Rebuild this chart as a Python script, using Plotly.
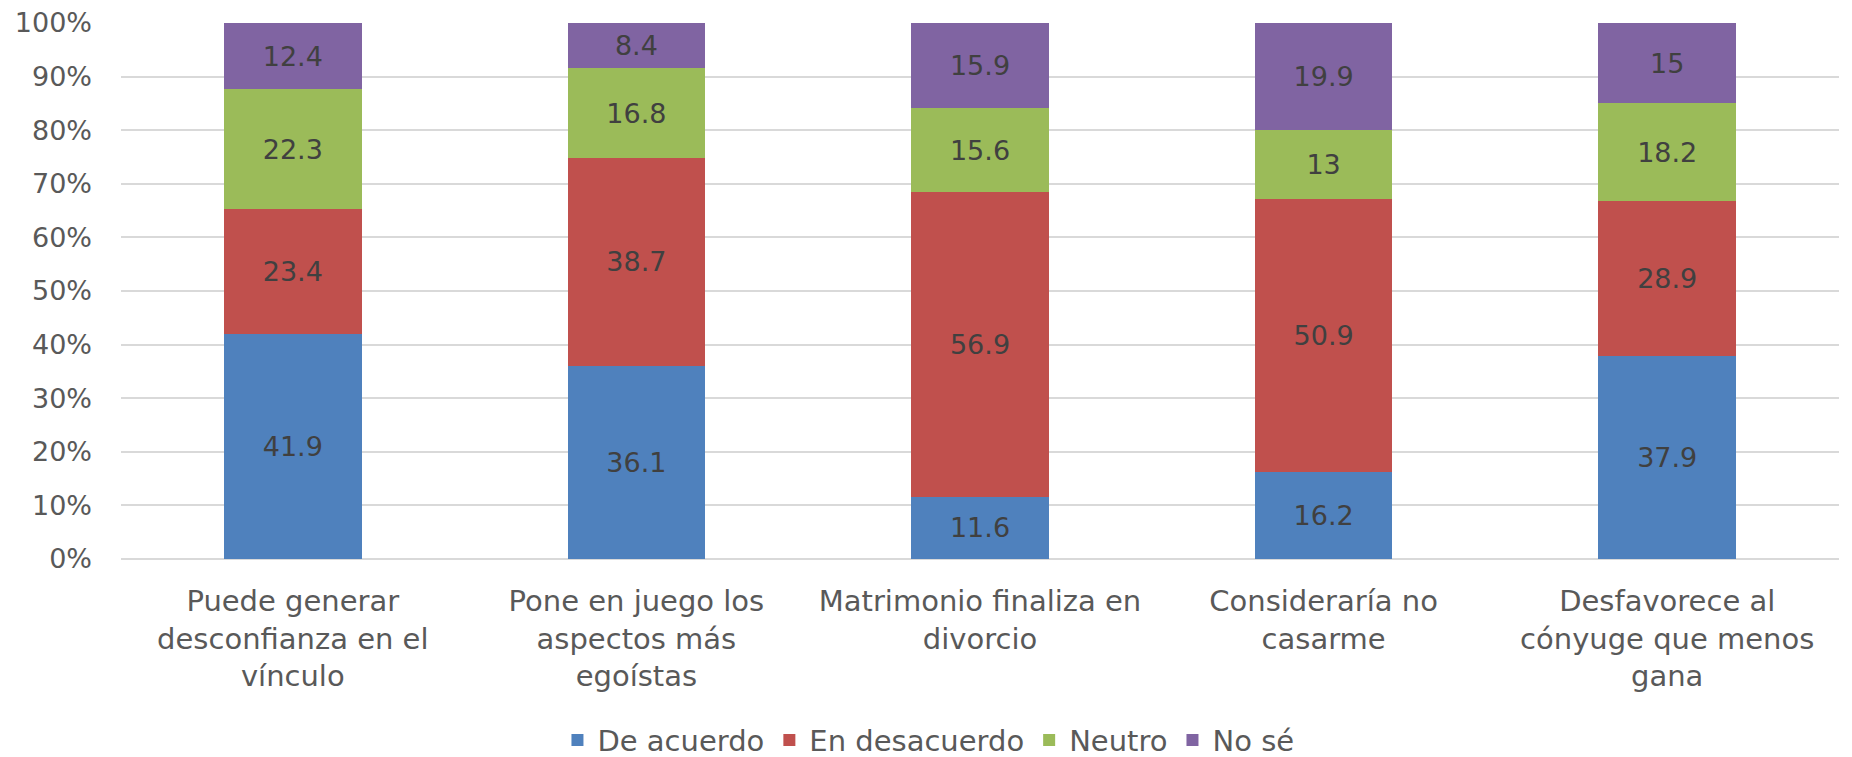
import plotly.graph_objects as go

categories = [
    "Puede generar<br>desconfianza en el<br>vínculo",
    "Pone en juego los<br>aspectos más<br>egoístas",
    "Matrimonio finaliza en<br>divorcio",
    "Consideraría no<br>casarme",
    "Desfavorece al<br>cónyuge que menos<br>gana",
]
series_names = ["De acuerdo", "En desacuerdo", "Neutro", "No sé"]
de_acuerdo = [41.9, 36.1, 11.6, 16.2, 37.9]
en_desacuerdo = [23.4, 38.7, 56.9, 50.9, 28.9]
neutro = [22.3, 16.8, 15.6, 13, 18.2]
no_se = [12.4, 8.4, 15.9, 19.9, 15]
colors = ["#4F81BD", "#C0504D", "#9BBB59", "#8064A2"]
tick_vals = [0, 10, 20, 30, 40, 50, 60, 70, 80, 90, 100]
tick_text = [f"{v}%" for v in tick_vals]

FONT = "DejaVu Sans"
FS = 27
FS_CAT = 29

fig = go.Figure()
for name, vals, col in zip(series_names, [de_acuerdo, en_desacuerdo, neutro, no_se], colors):
    fig.add_trace(go.Bar(
        name=name, x=categories, y=vals,
        marker=dict(color=col, line=dict(width=0)),
        text=[str(v) for v in vals], textposition="inside", insidetextanchor="middle",
        textfont=dict(family=FONT, size=FS, color="#404040"),
        textangle=0, width=0.4,
    ))

# page body adds an 8px offset, so the figure is sized/margined to compensate
fig.update_layout(
    barmode="stack", barnorm="percent",
    width=1844, height=749,
    margin=dict(l=113, r=13, t=15, b=198, autoexpand=False),
    paper_bgcolor="white", plot_bgcolor="white",
    font=dict(family=FONT, size=FS, color="#595959"),
    legend=dict(orientation="h", x=0.47, xanchor="center", y=-0.338, yanchor="middle",
                font=dict(family=FONT, size=FS_CAT, color="#595959"),
                itemwidth=30, traceorder="normal"),
    showlegend=True,
)
fig.update_yaxes(range=[0, 100], tickvals=tick_vals, ticktext=tick_text,
                 showgrid=True, gridcolor="#D9D9D9", gridwidth=2,
                 zeroline=True, zerolinecolor="#D9D9D9", zerolinewidth=2,
                 showline=False, ticks="", ticklabelstandoff=28, automargin=False,
                 ticklabeloverflow="allow",
                 tickfont=dict(family=FONT, size=FS, color="#595959"))
fig.update_xaxes(showline=False, ticks="", tickangle=0, automargin=False,
                 ticklabelstandoff=22, ticklabeloverflow="allow",
                 tickfont=dict(family=FONT, size=FS_CAT, color="#595959"))

fig.write_html("out.html")
